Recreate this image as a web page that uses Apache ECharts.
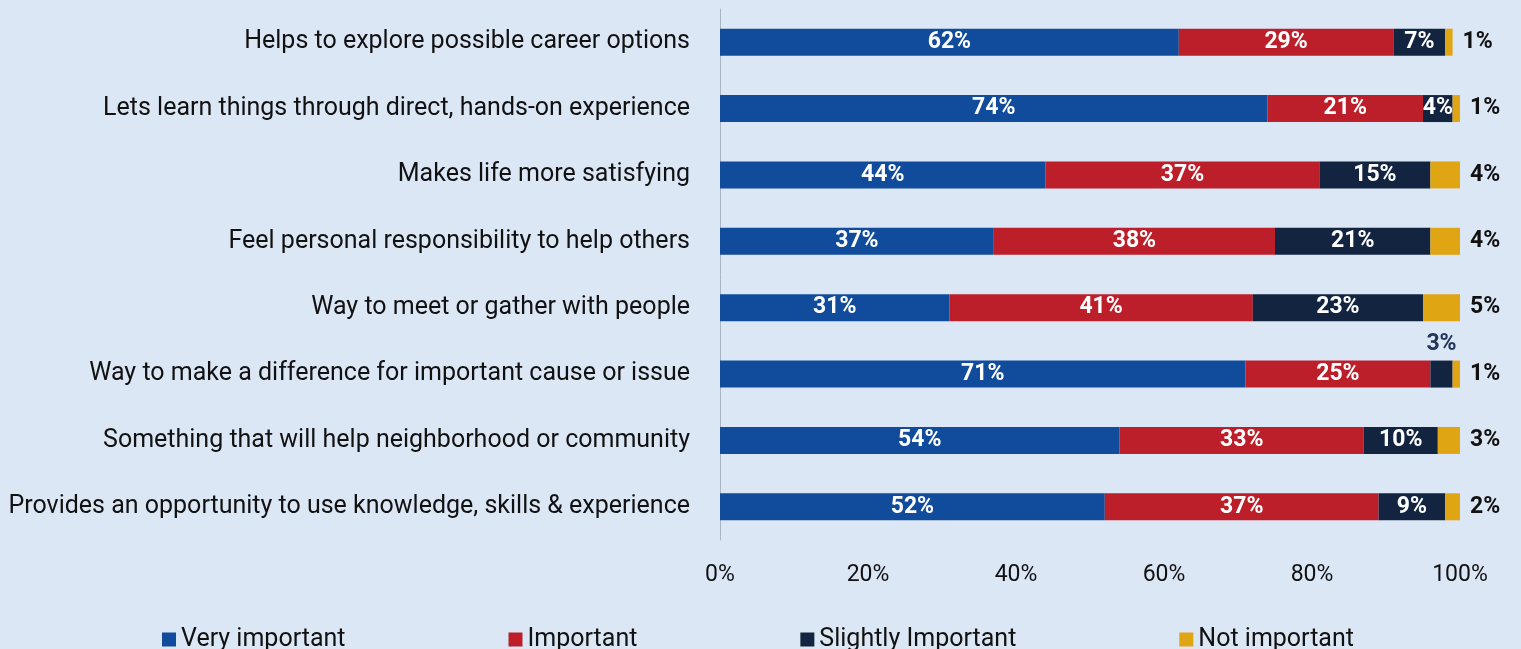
<!DOCTYPE html>
<html>
<head>
<meta charset="utf-8">
<script src="https://cdn.jsdelivr.net/npm/echarts@6/dist/echarts.min.js"></script>
<style>
html,body{margin:0;padding:0;background:#dce7f6;}
#c{width:1521px;height:649px;}
</style>
</head>
<body>
<div id="c"></div>
<script>
var categories = [
  "Helps to explore possible career options",
  "Lets learn things through direct, hands-on experience",
  "Makes life more satisfying",
  "Feel personal responsibility to help others",
  "Way to meet or gather with people",
  "Way to make a difference for important cause or issue",
  "Something that will help neighborhood or community",
  "Provides an opportunity to use knowledge, skills & experience"
];
var veryImportant = [62, 74, 44, 37, 31, 71, 54, 52];
var important = [29, 21, 37, 38, 41, 25, 33, 37];
var slightlyImportant = [7, 4, 15, 21, 23, 3, 10, 9];
var notImportant = [1, 1, 4, 4, 5, 1, 3, 2];
var xTicks = [0, 20, 40, 60, 80, 100];

var FONT = 'Roboto';
var chart = echarts.init(document.getElementById('c'));
var inLabel = {show: true, position: 'inside', color: '#ffffff', fontWeight: 'bold', fontSize: 23, fontFamily: FONT, formatter: '{c}%'};

function mk(name, data, color, label) {
  return {name: name, type: 'bar', stack: 'all', data: data, barWidth: 27,
    itemStyle: {color: color}, label: label, emphasis: {disabled: true}};
}
var slightData = slightlyImportant.map(function(v){
  if (v === 3) return {value: v, label: {position: 'top', distance: 5, color: '#24365a'}};
  return v;
});

chart.setOption({
  backgroundColor: '#dce7f6',
  animation: false,
  textStyle: {fontFamily: FONT},
  grid: {left: 720, right: 61, top: 9, bottom: 109, containLabel: false},
  xAxis: {type: 'value', min: 0, max: 100, interval: 20,
    axisLabel: {formatter: '{value}%', fontSize: 23, color: '#111', margin: 24, fontFamily: FONT},
    axisLine: {show: false}, axisTick: {show: false}, splitLine: {show: false}},
  yAxis: {type: 'category', data: categories, inverse: true,
    axisLine: {show: true, lineStyle: {color: '#a8b6c8', width: 1}},
    axisTick: {show: false},
    axisLabel: {fontSize: 25, color: '#111', margin: 30, fontFamily: FONT, padding: [4, 0, 0, 0]}},
  legend: {left: 157, top: 622, itemWidth: 14, itemHeight: 14, itemGap: 163, icon: 'rect',
    textStyle: {fontSize: 25, color: '#111', fontFamily: FONT},
    data: ['Very important', 'Important', 'Slightly Important', 'Not important']},
  series: [
    mk('Very important', veryImportant, '#114b9c', inLabel),
    mk('Important', important, '#bc1f2a', inLabel),
    mk('Slightly Important', slightData, '#132441', inLabel),
    mk('Not important', notImportant, '#e0a512',
      {show: true, position: 'right', distance: 10, color: '#111', fontWeight: 'bold', fontSize: 23, fontFamily: FONT, formatter: '{c}%'})
  ]
});
</script>
</body>
</html>
